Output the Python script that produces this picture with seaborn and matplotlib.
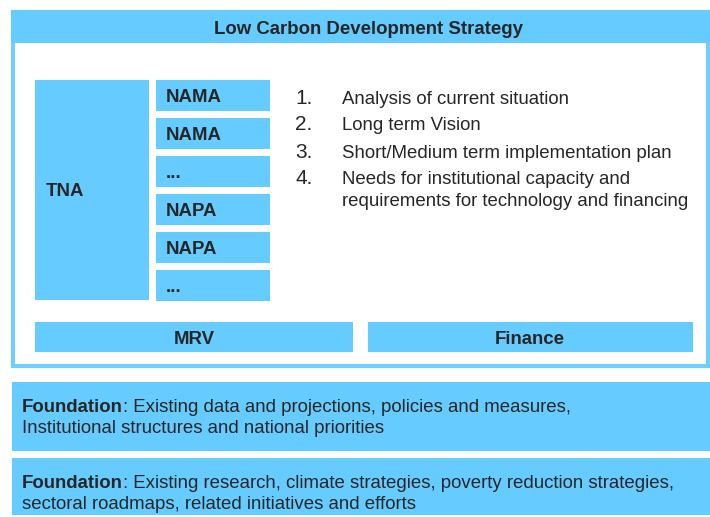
import numpy as np
import seaborn as sns
import matplotlib.pyplot as plt

# Diagram content
header_title = "Low Carbon Development Strategy"
side_label = "TNA"
stack_labels = ["NAMA", "NAMA", "...", "NAPA", "NAPA", "..."]
step_numbers = ["1.", "2.", "3.", "4."]
step_texts = ["Analysis of current situation",
              "Long term Vision",
              "Short/Medium term implementation plan",
              "Needs for institutional capacity and\nrequirements for technology and financing"]
support_labels = ["MRV", "Finance"]
foundation_heads = ["Foundation", "Foundation"]
foundation_texts = [[": Existing data and projections, policies and measures,",
                     "Institutional structures and national priorities"],
                    [": Existing research, climate strategies, poverty reduction strategies,",
                     "sectoral roadmaps, related initiatives and efforts"]]

sns.set_style("white")
plt.rcParams['font.family'] = ['Liberation Sans', 'DejaVu Sans']

blue = "#66CCFF"
fs = 13.4
W, H = 710, 517
fig = plt.figure(figsize=(W / 100, H / 100), dpi=100)
ax = fig.add_axes([0, 0, 1, 1])
ax.set_xlim(0, W)
ax.set_ylim(H, 0)
ax.axis("off")

# outer frame + header band
ax.bar(12.5, 354.5, bottom=11.5, width=695, align="edge", color="white",
       edgecolor="#70cfff", linewidth=3)
ax.bar(11, 33, bottom=10, width=699, align="edge", color=blue, linewidth=0)
ax.text(368, 34, header_title, ha="center", va="baseline",
        fontsize=fs, fontweight="bold")

# TNA column
ax.bar(35, 220, bottom=80, width=114, align="edge", color=blue, linewidth=0)
ax.text(46, 196.5, side_label, ha="left", va="baseline", fontsize=fs,
        fontweight="bold")

# NAMA / NAPA stack
tops = 80 + 38 * np.arange(len(stack_labels))
ax.bar(np.full(len(stack_labels), 156), 31, bottom=tops, width=114,
       align="edge", color=blue, linewidth=0)
for t, lab in zip(tops, stack_labels):
    ax.text(166, t + 22, lab, ha="left", va="baseline", fontsize=fs,
            fontweight="bold")

# numbered list
step_base = [103.5, 130.5, 157.5, 183.5]
for y, n, s in zip(step_base, step_numbers, step_texts):
    ax.text(295, y, n, ha="left", va="baseline", fontsize=15)
    for k, line in enumerate(s.split("\n")):
        ax.text(342, y + 23 * k, line, ha="left", va="baseline", fontsize=fs)

# MRV / Finance
ax.bar([35, 368], 30, bottom=322, width=[318, 325], align="edge", color=blue,
       linewidth=0)
for x, lab in zip([194, 530], support_labels):
    ax.text(x, 343.5, lab, ha="center", va="baseline", fontsize=fs,
            fontweight="bold")

# foundation rows
row_tops = [382, 458]
row_heights = [69, 57]
for top, h, head, lines in zip(row_tops, row_heights, foundation_heads,
                               foundation_texts):
    ax.bar(12, h, bottom=top, width=698, align="edge", color=blue, linewidth=0)
    bt = ax.text(22, top + 30, head, ha="left", va="baseline", fontsize=fs,
                 fontweight="bold")
    ax.annotate(lines[0], xy=(1, 0), xycoords=bt, ha="left", va="bottom",
                fontsize=fs)
    ax.text(22, top + 51, lines[1], ha="left", va="baseline", fontsize=fs)

fig.savefig("out.png", dpi=100)
